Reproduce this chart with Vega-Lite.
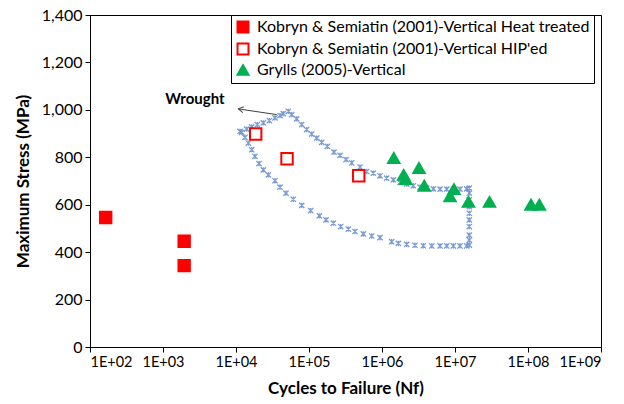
{
  "$schema": "https://vega.github.io/schema/vega-lite/v6.json",
  "width": 511,
  "height": 332,
  "autosize": "none",
  "padding": {"left": 90, "top": 15, "right": 23, "bottom": 57},
  "background": "white",
  "config": {
    "view": {"stroke": "#000000", "strokeWidth": 1},
    "font": "Lato",
    "axis": {
      "labelFont": "Lato", "titleFont": "Lato", "labelFontSize": 16, "titleFontSize": 17,
      "titleFontWeight": "bold", "labelColor": "#000000", "titleColor": "#000000",
      "domainColor": "#000000", "tickColor": "#000000", "tickSize": 5, "grid": false,
      "labelPadding": 3
    }
  },
  "datasets": {
    "pts": [
      {"series": "Kobryn & Semiatin (2001)-Vertical Heat treated", "cycles": 164, "stress": 546},
      {"series": "Kobryn & Semiatin (2001)-Vertical Heat treated", "cycles": 1950, "stress": 446},
      {"series": "Kobryn & Semiatin (2001)-Vertical Heat treated", "cycles": 1950, "stress": 343},
      {"series": "Kobryn & Semiatin (2001)-Vertical HIP'ed", "cycles": 18600, "stress": 898},
      {"series": "Kobryn & Semiatin (2001)-Vertical HIP'ed", "cycles": 50000, "stress": 794},
      {"series": "Kobryn & Semiatin (2001)-Vertical HIP'ed", "cycles": 480000, "stress": 722},
      {"series": "Grylls (2005)-Vertical", "cycles": 1450000, "stress": 797},
      {"series": "Grylls (2005)-Vertical", "cycles": 3210000, "stress": 755},
      {"series": "Grylls (2005)-Vertical", "cycles": 1980000, "stress": 726},
      {"series": "Grylls (2005)-Vertical", "cycles": 2110000, "stress": 708},
      {"series": "Grylls (2005)-Vertical", "cycles": 3790000, "stress": 680},
      {"series": "Grylls (2005)-Vertical", "cycles": 9680000, "stress": 666},
      {"series": "Grylls (2005)-Vertical", "cycles": 8550000, "stress": 635},
      {"series": "Grylls (2005)-Vertical", "cycles": 15300000, "stress": 612},
      {"series": "Grylls (2005)-Vertical", "cycles": 29700000, "stress": 612},
      {"series": "Grylls (2005)-Vertical", "cycles": 110000000, "stress": 600},
      {"series": "Grylls (2005)-Vertical", "cycles": 143000000, "stress": 600}
    ],
    "env": [
      {"cycles": 11350, "stress": 909}, {"cycles": 14000, "stress": 919}, {"cycles": 16410, "stress": 928},
      {"cycles": 19590, "stress": 938}, {"cycles": 23660, "stress": 945}, {"cycles": 28640, "stress": 955},
      {"cycles": 34200, "stress": 966}, {"cycles": 40090, "stress": 976}, {"cycles": 44460, "stress": 984},
      {"cycles": 52120, "stress": 994}, {"cycles": 57940, "stress": 980}, {"cycles": 67760, "stress": 962},
      {"cycles": 79430, "stress": 938}, {"cycles": 92900, "stress": 917}, {"cycles": 108900, "stress": 898},
      {"cycles": 127400, "stress": 881}, {"cycles": 149300, "stress": 863}, {"cycles": 178200, "stress": 846},
      {"cycles": 219800, "stress": 822}, {"cycles": 266100, "stress": 808}, {"cycles": 321400, "stress": 790},
      {"cycles": 384600, "stress": 776}, {"cycles": 500000, "stress": 759}, {"cycles": 616600, "stress": 740},
      {"cycles": 760300, "stress": 733}, {"cycles": 939700, "stress": 722}, {"cycles": 1159000, "stress": 712},
      {"cycles": 1429000, "stress": 705}, {"cycles": 1766000, "stress": 694}, {"cycles": 2178000, "stress": 687},
      {"cycles": 2685000, "stress": 680}, {"cycles": 3319000, "stress": 674}, {"cycles": 4093000, "stress": 670},
      {"cycles": 5047000, "stress": 667}, {"cycles": 6237000, "stress": 666}, {"cycles": 7691000, "stress": 666},
      {"cycles": 9484000, "stress": 666}, {"cycles": 11690000, "stress": 666}, {"cycles": 14450000, "stress": 667},
      {"cycles": 15700000, "stress": 670}, {"cycles": 15700000, "stress": 649}, {"cycles": 15700000, "stress": 620},
      {"cycles": 15700000, "stress": 592}, {"cycles": 15700000, "stress": 564}, {"cycles": 15700000, "stress": 536},
      {"cycles": 15700000, "stress": 508}, {"cycles": 15700000, "stress": 472}, {"cycles": 15700000, "stress": 451},
      {"cycles": 15700000, "stress": 430}, {"cycles": 14450000, "stress": 426}, {"cycles": 11690000, "stress": 426},
      {"cycles": 9484000, "stress": 426}, {"cycles": 7691000, "stress": 426}, {"cycles": 6237000, "stress": 426},
      {"cycles": 4797000, "stress": 426}, {"cycles": 3681000, "stress": 427}, {"cycles": 2831000, "stress": 429},
      {"cycles": 2178000, "stress": 433}, {"cycles": 1675000, "stress": 437}, {"cycles": 1355000, "stress": 444},
      {"cycles": 939700, "stress": 461}, {"cycles": 722800, "stress": 468}, {"cycles": 554600, "stress": 477},
      {"cycles": 426600, "stress": 487}, {"cycles": 345900, "stress": 497}, {"cycles": 271600, "stress": 508},
      {"cycles": 215300, "stress": 522}, {"cycles": 171000, "stress": 536}, {"cycles": 138700, "stress": 553},
      {"cycles": 105400, "stress": 575}, {"cycles": 79430, "stress": 597}, {"cycles": 60950, "stress": 623},
      {"cycles": 48420, "stress": 649}, {"cycles": 40090, "stress": 674}, {"cycles": 34200, "stress": 701},
      {"cycles": 27730, "stress": 726}, {"cycles": 23660, "stress": 747}, {"cycles": 20650, "stress": 773},
      {"cycles": 18200, "stress": 804}, {"cycles": 16410, "stress": 832}, {"cycles": 14760, "stress": 860},
      {"cycles": 13270, "stress": 884}, {"cycles": 11970, "stress": 905}
    ],
    "note": [{"label": "Wrought", "cycles": 2740, "stress": 1046}],
    "arrow": [{"x1": 36100, "y1": 980, "x2": 10770, "y2": 1004}]
  },
  "layer": [
    {
      "data": {"name": "env"},
      "mark": {"type": "point", "shape": "M-1,-1L1,1M1,-1L-1,1M0,-1L0,1", "size": 28, "filled": false, "stroke": "#6E93CF", "strokeWidth": 1.3, "opacity": 0.9},
      "encoding": {
        "x": {"field": "cycles", "type": "quantitative",
          "scale": {"type": "log", "domain": [100, 1000000000], "nice": false},
          "axis": {"values": [100, 1000, 10000, 100000, 1000000, 10000000, 100000000, 1000000000],
            "labelExpr": "'1E+0' + round(log(datum.value) / LN10)", "labelFontSize": 14.5, "title": "Cycles to Failure (Nf)", "titlePadding": 12}},
        "y": {"field": "stress", "type": "quantitative",
          "scale": {"domain": [0, 1400], "nice": false},
          "axis": {"values": [0, 200, 400, 600, 800, 1000, 1200, 1400], "labelExpr": "format(datum.value, ',.0f')", "title": "Maximum Stress (MPa)", "titlePadding": 9}}
      }
    },
    {
      "data": {"name": "arrow"},
      "mark": {"type": "rule", "color": "#404040", "strokeWidth": 1},
      "encoding": {
        "x": {"field": "x1", "type": "quantitative"},
        "y": {"field": "y1", "type": "quantitative"},
        "x2": {"field": "x2"},
        "y2": {"field": "y2"}
      }
    },
    {
      "data": {"name": "arrow"},
      "mark": {"type": "point", "shape": "M1,-0.6L0,0L1,0.6", "size": 100, "filled": false, "stroke": "#404040", "strokeWidth": 1, "angle": 8.4, "opacity": 1},
      "encoding": {
        "x": {"field": "x2", "type": "quantitative"},
        "y": {"field": "y2", "type": "quantitative"}
      }
    },
    {
      "data": {"name": "note"},
      "mark": {"type": "text", "font": "Lato", "fontSize": 15, "fontWeight": "bold", "color": "#000000"},
      "encoding": {
        "x": {"field": "cycles", "type": "quantitative"},
        "y": {"field": "stress", "type": "quantitative"},
        "text": {"field": "label"}
      }
    },
    {
      "data": {"name": "pts"},
      "mark": {"type": "point", "size": 130, "strokeWidth": 2, "opacity": 1},
      "encoding": {
        "x": {"field": "cycles", "type": "quantitative"},
        "y": {"field": "stress", "type": "quantitative"},
        "shape": {"field": "series", "type": "nominal",
          "scale": {"domain": ["Kobryn & Semiatin (2001)-Vertical Heat treated", "Kobryn & Semiatin (2001)-Vertical HIP'ed", "Grylls (2005)-Vertical"],
            "range": ["square", "square", "triangle-up"]},
          "legend": {"title": null, "orient": "none", "legendX": 141, "legendY": 0, "strokeColor": "#000000", "padding": 4,
            "labelFont": "Lato", "labelFontSize": 16, "labelColor": "#000000", "labelLimit": 500, "symbolSize": 120, "symbolStrokeWidth": 2, "rowPadding": 2, "labelOffset": 6, "fillColor": "white"}},
        "fill": {"field": "series", "type": "nominal",
          "scale": {"domain": ["Kobryn & Semiatin (2001)-Vertical Heat treated", "Kobryn & Semiatin (2001)-Vertical HIP'ed", "Grylls (2005)-Vertical"],
            "range": ["#FF0000", "#FFFFFF", "#00B050"]},
          "legend": {"title": null, "orient": "none", "legendX": 141, "legendY": 0, "strokeColor": "#000000", "padding": 4,
            "labelFont": "Lato", "labelFontSize": 16, "labelColor": "#000000", "labelLimit": 500, "symbolSize": 120, "symbolStrokeWidth": 2, "rowPadding": 2, "labelOffset": 6, "fillColor": "white"}},
        "stroke": {"field": "series", "type": "nominal",
          "scale": {"domain": ["Kobryn & Semiatin (2001)-Vertical Heat treated", "Kobryn & Semiatin (2001)-Vertical HIP'ed", "Grylls (2005)-Vertical"],
            "range": ["#FF0000", "#FF0000", "#00B050"]},
          "legend": {"title": null, "orient": "none", "legendX": 141, "legendY": 0, "strokeColor": "#000000", "padding": 4,
            "labelFont": "Lato", "labelFontSize": 16, "labelColor": "#000000", "labelLimit": 500, "symbolSize": 120, "symbolStrokeWidth": 2, "rowPadding": 2, "labelOffset": 6, "fillColor": "white"}}
      }
    }
  ]
}
